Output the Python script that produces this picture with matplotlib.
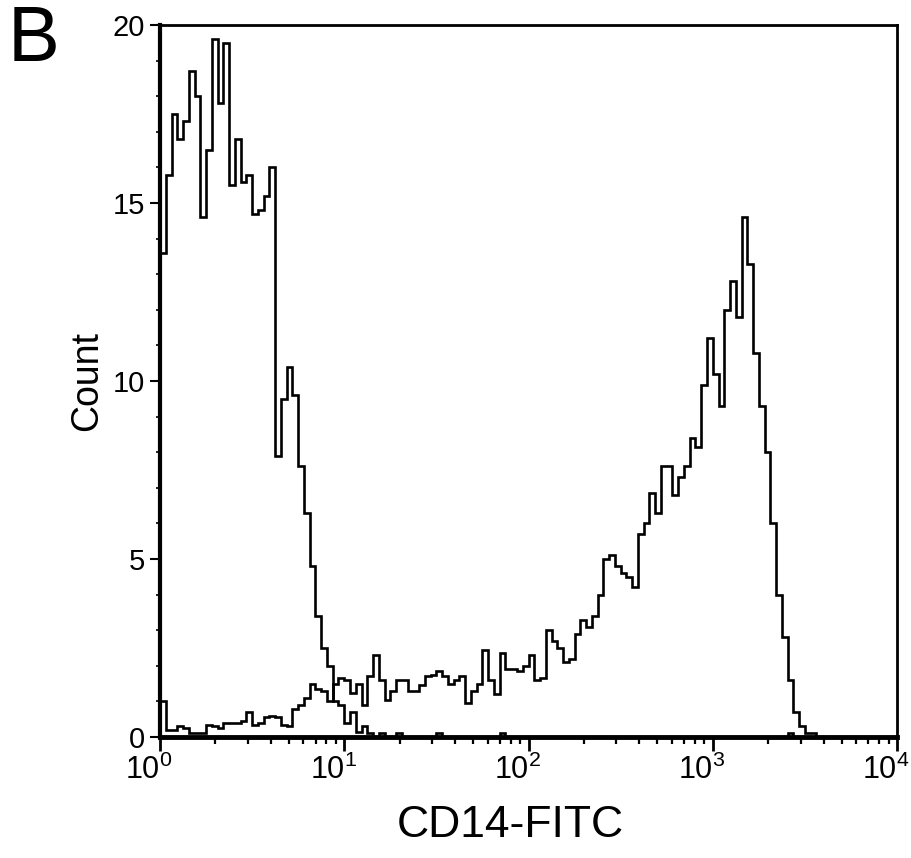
import numpy as np
import matplotlib
matplotlib.use("Agg")
import matplotlib.pyplot as plt

# ---- data (channel counts, 32 channels per decade, starting at 10^0) ----
bins_per_decade = 32
control_counts = [13.6, 15.8, 17.5, 16.8, 17.3, 18.7, 18.0, 14.6, 16.5, 19.6,
                  17.8, 19.5, 15.5, 16.8, 15.6, 15.8, 14.7, 14.8, 15.2, 16.0,
                  7.9, 9.5, 10.4, 9.6, 7.6, 6.3, 4.8, 3.4, 2.5, 2.0,
                  1.0, 0.9, 0.4, 0.7, 0.15, 0.3, 0.1, 0.0, 0.1, 0.0,
                  0.0, 0.1, 0.0, 0.0, 0.0, 0.0, 0.0, 0.0, 0.1, 0.0,
                  0.0, 0.0, 0.0, 0.0, 0.0, 0.0, 0.0, 0.0, 0.0, 0.1,
                  0.0, 0.0, 0.0, 0.0, 0.0, 0.0, 0.0, 0.0, 0.0, 0.0,
                  0.0, 0.0, 0.0, 0.0, 0.0, 0.0, 0.0, 0.0, 0.0, 0.0,
                  0.0, 0.0, 0.0, 0.0, 0.0, 0.0, 0.0, 0.0, 0.0, 0.0,
                  0.0, 0.0, 0.0, 0.0, 0.0, 0.0, 0.0, 0.0, 0.0, 0.0,
                  0.0, 0.0, 0.0, 0.0, 0.0, 0.0, 0.0, 0.0, 0.0, 0.1,
                  0.0, 0.0, 0.0, 0.0, 0.0, 0.0, 0.0, 0.0, 0.0, 0.0,
                  0.0, 0.0, 0.0, 0.0, 0.0, 0.0, 0.0, 0.0]
cd14_counts = [1.0, 0.2, 0.2, 0.3, 0.25, 0.1, 0.1, 0.1, 0.35, 0.3,
               0.25, 0.4, 0.4, 0.4, 0.45, 0.7, 0.35, 0.4, 0.55, 0.6,
               0.55, 0.35, 0.3, 0.8, 0.9, 1.1, 1.5, 1.35, 1.3, 1.0,
               1.5, 1.65, 1.6, 1.25, 1.5, 0.9, 1.7, 2.3, 1.6, 1.05,
               1.3, 1.6, 1.6, 1.3, 1.3, 1.45, 1.7, 1.75, 1.85, 1.7,
               1.5, 1.6, 1.7, 0.95, 1.3, 1.5, 2.45, 1.6, 1.2, 2.35,
               1.9, 1.9, 1.85, 2.0, 2.3, 1.6, 1.65, 3.0, 2.7, 2.5,
               2.1, 2.2, 2.9, 3.3, 3.1, 3.4, 4.0, 5.0, 5.1, 4.8,
               4.6, 4.5, 4.2, 5.7, 6.0, 6.85, 6.3, 7.6, 7.6, 6.8,
               7.3, 7.6, 8.4, 8.15, 9.9, 11.2, 10.2, 9.3, 12.0, 12.8,
               11.8, 14.6, 13.3, 10.8, 9.3, 8.0, 6.0, 4.0, 2.8, 1.6,
               0.7, 0.3, 0.1, 0.1, 0.0, 0.0, 0.0, 0.0, 0.0, 0.0,
               0.0, 0.0, 0.0, 0.0, 0.0, 0.0, 0.0, 0.0]
y_ticks = [0, 5, 10, 15, 20]
x_ticks = [1, 10, 100, 1000, 10000]
x_ticklabels = ["$10^{0}$", "$10^{1}$", "$10^{2}$", "$10^{3}$", "$10^{4}$"]
x_label = "CD14-FITC"
y_label = "Count"
panel_label = "B"

plt.rcParams["font.family"] = ["Liberation Sans", "DejaVu Sans"]
plt.rcParams["mathtext.fontset"] = "custom"
plt.rcParams["mathtext.rm"] = "Liberation Sans"
plt.rcParams["mathtext.it"] = "Liberation Sans"

fig = plt.figure(figsize=(9.11, 8.58), dpi=100)
ax = fig.add_axes([160/911, 121/858, 737/911, 712/858])

edges_c = 10 ** (np.arange(len(control_counts) + 1) / bins_per_decade)
edges_d = 10 ** (np.arange(len(cd14_counts) + 1) / bins_per_decade)
ax.stairs(control_counts, edges_c, color="black", lw=1.9, clip_on=False)
ax.stairs(cd14_counts, edges_d, color="black", lw=1.9, clip_on=False)

ax.set_xscale("log")
ax.set_xlim(1, 10000)
ax.set_ylim(0, 20)

ax.set_yticks(y_ticks)
ax.set_yticks(np.arange(0, 21, 1), minor=True)
ax.set_xticks(x_ticks)
ax.set_xticklabels([])
ax.xaxis.set_minor_locator(matplotlib.ticker.LogLocator(base=10, subs=np.arange(2, 10)))
ax.xaxis.set_minor_formatter(matplotlib.ticker.NullFormatter())

ax.tick_params(axis="y", which="major", direction="out", length=7, width=1.5,
               labelsize=21, pad=4)
ax.tick_params(axis="y", which="minor", direction="out", length=3, width=1.2)
ax.tick_params(axis="x", which="major", direction="out", length=10, width=2)
ax.tick_params(axis="x", which="minor", direction="out", length=5, width=1.6)

# x tick labels, placed slightly left of each decade tick
for xt, lab in zip(x_ticks, x_ticklabels):
    ax.annotate(lab, xy=(xt, 0), xycoords=("data", "axes fraction"),
                xytext=(-8, -13), textcoords="offset points",
                ha="center", va="top", fontsize=22, annotation_clip=False)

ax.spines["left"].set_linewidth(3)
ax.spines["bottom"].set_linewidth(3.5)
ax.spines["top"].set_linewidth(2)
ax.spines["right"].set_linewidth(2)

ax.set_xlabel(x_label, fontsize=32)
ax.xaxis.set_label_coords((510 - 160) / 737, -(805 - 737) / 712)
ax.set_ylabel(y_label, fontsize=27, labelpad=5)

fig.text(0.008, 0.995, panel_label, fontsize=56, va="top", ha="left")

fig.savefig("out.png", dpi=100)
